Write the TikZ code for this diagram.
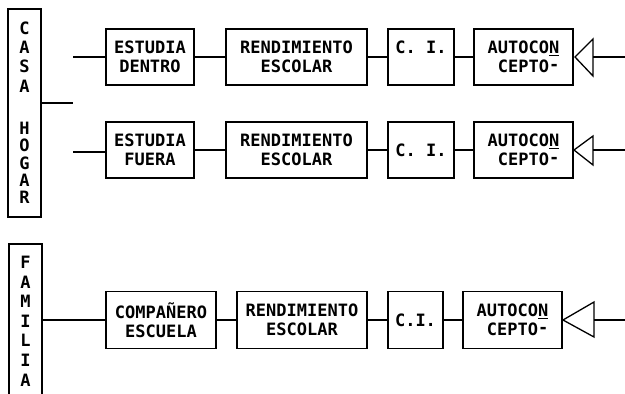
\documentclass[tikz,border=0pt]{standalone}
\usepackage{fontspec}
\setmonofont{DejaVu Sans Mono}
\newcommand{\hdash}{\raisebox{2pt}{-}}
\begin{document}
\tikzset{
  blk/.style={draw, line width=1.3pt, inner sep=0pt, align=center,
    font=\ttfamily\bfseries\fontsize{17}{18.5}\selectfont},
  conn/.style={line width=1.3pt},
  vt/.style={inner sep=0pt, align=center},
}
\begin{tikzpicture}[x=1pt,y=-1pt]
\useasboundingbox (0,0) rectangle (625,394);
\clip (0,0) rectangle (625,394);
% left vertical boxes
\node[blk, minimum width=33pt, minimum height=208pt] (ch) at (24.5,113) {};
\node[vt, font=\ttfamily\bfseries\fontsize{17}{19.3}\selectfont] (casa) at (24.5,57) {C\\A\\S\\A};
\node[vt, font=\ttfamily\bfseries\fontsize{17}{17.3}\selectfont] (hogar) at (24.5,163) {H\\O\\G\\A\\R};
\node[blk, minimum width=33pt, minimum height=156pt] (fa) at (25.5,322) {};
\node[vt, font=\ttfamily\bfseries\fontsize{17}{19.6}\selectfont] (fam) at (25.5,321) {F\\A\\M\\I\\L\\I\\A};
% row 1
\node[blk, minimum width=88pt, minimum height=56pt] (ed) at (150,57) {ESTUDIA\\DENTRO};
\node[blk, minimum width=141pt, minimum height=56pt] (re1) at (296.5,57) {RENDIMIENTO\\ESCOLAR};
\node[blk, minimum width=66pt, minimum height=56pt] (ci1) at (421,57) {C. I.\\\phantom{C}};
\node[blk, minimum width=99pt, minimum height=56pt] (au1) at (523.5,57) {AUTOCO\underline{N}\\\phantom{A}CEPTO\hdash};
% row 2
\node[blk, minimum width=88pt, minimum height=56pt] (ef) at (150,150) {ESTUDIA\\FUERA};
\node[blk, minimum width=141pt, minimum height=56pt] (re2) at (296.5,150) {RENDIMIENTO\\ESCOLAR};
\node[blk, minimum width=66pt, minimum height=56pt] (ci2) at (421,150) {C. I.};
\node[blk, minimum width=99pt, minimum height=56pt] (au2) at (523.5,150) {AUTOCO\underline{N}\\\phantom{A}CEPTO\hdash};
% row 3
\node[blk, minimum width=110pt, minimum height=57pt] (co) at (161,320) {COMPAÑERO\\ESCUELA};
\node[blk, minimum width=130pt, minimum height=57pt] (re3) at (302,320) {RENDIMIENTO\\ESCOLAR};
\node[blk, minimum width=55pt, minimum height=57pt] (ci3) at (415.5,320) {C.I.};
\node[blk, minimum width=99pt, minimum height=57pt] (au3) at (512.5,320) {AUTOCO\underline{N}\\\phantom{A}CEPTO\hdash};
% branch stubs
\coordinate (hs) at (73,103);
\coordinate (b1) at (73,57);
\coordinate (b2) at (73,152);
\draw[conn] (ch.east |- hs) -- (hs);
\draw[conn] (b1) -- (ed.west |- b1);
\draw[conn] (b2) -- (ef.west |- b2);
\draw[conn] (fa.east |- co) -- (co);
% chains
\draw[conn] (ed) -- (re1);
\draw[conn] (re1) -- (ci1);
\draw[conn] (ci1) -- (au1);
\draw[conn] (ef) -- (re2);
\draw[conn] (re2) -- (ci2);
\draw[conn] (ci2) -- (au2);
\draw[conn] (co) -- (re3);
\draw[conn] (re3) -- (ci3);
\draw[conn] (ci3) -- (au3);
% triangles
\coordinate (t1a) at (575,57); \coordinate (t1u) at (593,39); \coordinate (t1d) at (593,76);
\coordinate (t2a) at (574,150); \coordinate (t2u) at (593,136); \coordinate (t2d) at (593,165);
\coordinate (t3a) at (563,320); \coordinate (t3u) at (594,302); \coordinate (t3d) at (594,337);
\draw[conn, line join=miter] (t1a) -- (t1u) -- (t1d) -- cycle;
\draw[conn, line join=miter] (t2a) -- (t2u) -- (t2d) -- cycle;
\draw[conn, line join=miter] (t3a) -- (t3u) -- (t3d) -- cycle;
\coordinate (r1) at (625,57);
\coordinate (r2) at (625,150);
\coordinate (r3) at (625,320);
\draw[conn] (t1u |- t1a) -- (r1);
\draw[conn] (t2u |- t2a) -- (r2);
\draw[conn] (t3u |- t3a) -- (r3);
\end{tikzpicture}
\end{document}
